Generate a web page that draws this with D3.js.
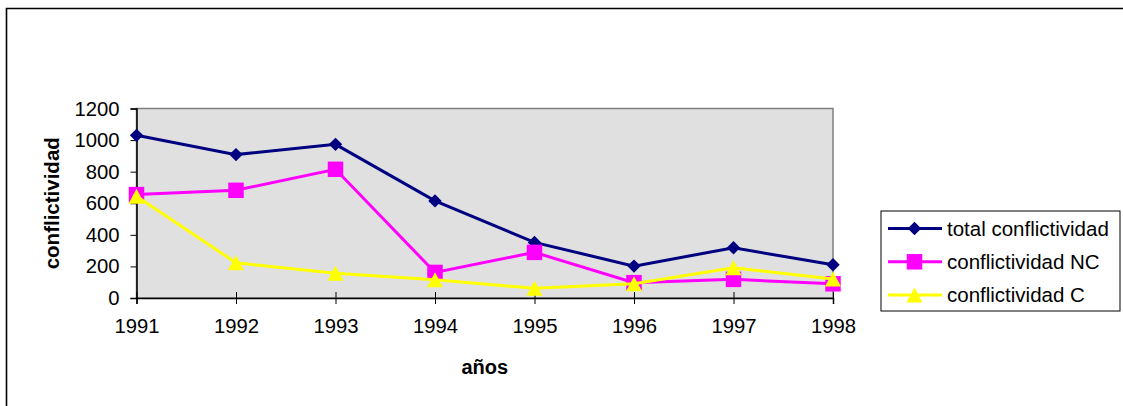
<!DOCTYPE html>
<html><head><meta charset="utf-8">
<script src="https://cdn.jsdelivr.net/npm/d3@7"></script>
<style>body{margin:0;background:#fff}svg{display:block;font-family:"Liberation Sans",Arial,sans-serif}</style>
</head><body>
<svg id="c" width="1123" height="406"></svg>
<script>
const years = [1991,1992,1993,1994,1995,1996,1997,1998];
const total = [1030,908,973,615,352,202,318,210];
const nc = [655,682,815,162,289,97,118,90];
const cc = [645,223,156,115,61,90,191,120];
const yTicks = [0,200,400,600,800,1000,1200];
const seriesNames = ["total conflictividad","conflictividad NC","conflictividad C"];
const seriesColors = ["#000080","#FF00FF","#FFFF00"];
const seriesShapes = ["diamond","square","triangle"];
const seriesData = [total, nc, cc];

const svg = d3.select("#c");
const L=136.5, R=833, T=108.5, B=298;
const x = d3.scalePoint().domain(years).range([L,R]);
const y = d3.scaleLinear().domain([0,1200]).range([B,T]);

// outer border
svg.append("path").attr("d","M6.5,406V8.5H1123").attr("fill","none").attr("stroke","#000").attr("stroke-width",1.6);

// plot area
svg.append("rect").attr("x",L).attr("y",T).attr("width",R-L).attr("height",B-T)
  .attr("fill","#E0E0E0").attr("stroke","#808080").attr("stroke-width",1.5);

// y axis
const ya = svg.append("g").attr("transform",`translate(${L},0)`)
  .call(d3.axisLeft(y).tickValues(yTicks).tickSize(6).tickPadding(11).tickFormat(d3.format("d")));
ya.select(".domain").attr("stroke","#000").attr("stroke-width",1.5);
ya.selectAll("text").attr("font-size",20.3).attr("fill","#000").attr("font-family","Liberation Sans, Arial, sans-serif");
ya.selectAll("line").attr("stroke","#000");

// x axis
const xa = svg.append("g").attr("transform",`translate(0,${B})`)
  .call(d3.axisBottom(x).tickSize(6).tickPadding(15).tickFormat(d3.format("d")));
xa.select(".domain").attr("stroke","#000").attr("stroke-width",1.5);
xa.selectAll("line").attr("stroke","#000").attr("y1",-6);
xa.selectAll("text").attr("font-size",20.3).attr("fill","#000").attr("font-family","Liberation Sans, Arial, sans-serif");

// axis titles
svg.append("text").attr("x",(L+R)/2).attr("y",374).attr("text-anchor","middle")
  .attr("font-size",20).attr("font-weight","bold").text("años");
svg.append("text").attr("transform",`translate(59,${(T+B)/2}) rotate(-90)`).attr("text-anchor","middle")
  .attr("font-size",20.5).attr("font-weight","bold").text("conflictividad");

const triType = { draw(ctx, size){ const w=8, h=7.5; ctx.moveTo(0,-h); ctx.lineTo(w,h); ctx.lineTo(-w,h); ctx.closePath(); } };
const sym = {
  diamond: d3.symbol().type(d3.symbolDiamond2).size(115),
  square: d3.symbol().type(d3.symbolSquare).size(240),
  triangle: d3.symbol().type(triType).size(1)
};
function drawMarker(g, shape, color, cx, cy){
  g.append("path").attr("d", sym[shape]()).attr("transform",`translate(${cx},${cy})`).attr("fill",color);
}

const line = d3.line().x((d,i)=>x(years[i])).y(d=>y(d));
seriesData.forEach((data,si)=>{
  svg.append("path").datum(data).attr("d",line).attr("fill","none")
    .attr("stroke",seriesColors[si]).attr("stroke-width",3);
  const g = svg.append("g");
  data.forEach((v,i)=>drawMarker(g, seriesShapes[si], seriesColors[si], x(years[i]), y(v)));
});

// legend
const lg = svg.append("g");
lg.append("rect").attr("x",881).attr("y",211).attr("width",239).attr("height",100)
  .attr("fill","#fff").attr("stroke","#000").attr("stroke-width",1);
seriesNames.forEach((n,i)=>{
  const cy = 228.5 + i*33.3;
  lg.append("line").attr("x1",888).attr("x2",942).attr("y1",cy).attr("y2",cy)
    .attr("stroke",seriesColors[i]).attr("stroke-width",3);
  drawMarker(lg, seriesShapes[i], seriesColors[i], 914.5, cy);
  lg.append("text").attr("x",947).attr("y",cy).attr("dy","0.35em").attr("font-size",20.5).text(n);
});
</script>
</body></html>
